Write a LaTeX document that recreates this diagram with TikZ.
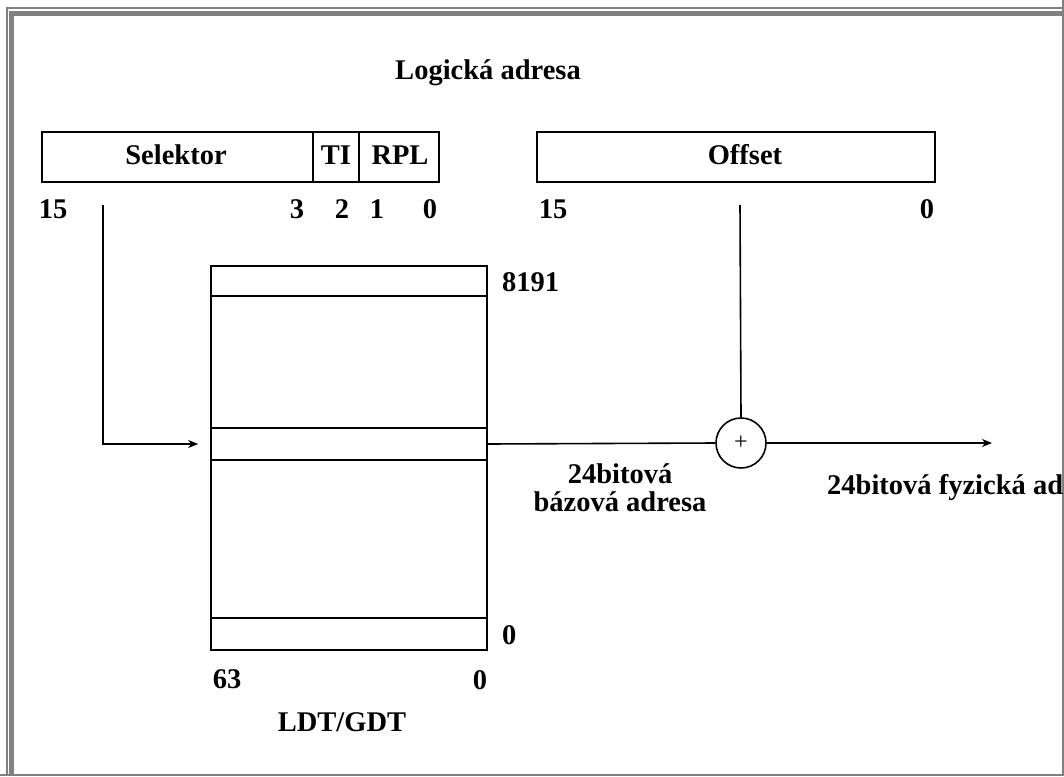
\documentclass[tikz,border=0pt]{standalone}
\usepackage{fontspec}
\setmainfont{Liberation Serif}
\usetikzlibrary{arrows.meta}
\begin{document}
\begin{tikzpicture}[x=1pt,y=-1pt,
  every node/.style={font=\fontsize{28.5}{32}\selectfont\bfseries, inner sep=0pt},
  box/.style={draw, line width=1.6pt, rectangle, inner sep=0pt},
  conn/.style={line width=1.6pt},
  arr/.style={line width=1.6pt, -{Stealth[length=10pt,width=8pt,inset=3pt]}},
  framecol/.style={fill=gray}
]
\useasboundingbox (0,0) rectangle (1064,776);
\fill[white] (0,0) rectangle (1064,776);
% frame
\fill[framecol] (6,7) rectangle (7.7,776);
\fill[framecol] (6,7) rectangle (1064,8.7);
\fill[framecol] (9,11) rectangle (14,776);
\fill[framecol] (9,11) rectangle (1064,16);
\fill[framecol] (1062,0) rectangle (1064,776);
\fill[framecol] (0,774) rectangle (1064,776);

\begin{scope}
\clip (14,16) rectangle (1062,774);
\node (title) at (488,73) {Logická adresa};

% selector register
\node[box, minimum width=271pt, minimum height=50pt] (sel) at (177.5,157) {};
\node (seltxt) at (176,155) {Selektor};
\node[box, minimum width=46pt, minimum height=50pt] (ti) at (336,157) {};
\node (titxt) at (336,155) {TI};
\node[box, minimum width=80pt, minimum height=50pt] (rpl) at (399,157) {};
\node (rpltxt) at (400,155) {RPL};
\node (b15) at (53,209) {15};
\node (b3) at (297,209) {3};
\node (b2) at (342,209) {2};
\node (b1) at (377,209) {1};
\node (b0) at (430,209) {0};

% offset register
\node[box, minimum width=398pt, minimum height=50pt] (off) at (736,157) {};
\node (offtxt) at (745,155) {Offset};
\node (o15) at (553,209) {15};
\node (o0) at (927,209) {0};

% descriptor table
\node[box, minimum width=276pt, minimum height=384pt] (table) at (349,458) {};
\node[box, minimum width=276pt, minimum height=30pt] (toprow) at (349,281) {};
\node[box, minimum width=276pt, minimum height=32pt] (row) at (349,444) {};
\node[box, minimum width=276pt, minimum height=32pt] (botrow) at (349,634) {};
\node[anchor=west] (n8191) at (502,282) {8191};
\node[anchor=west] (n0r) at (502,635) {0};
\node (t63) at (227,679) {63};
\node (t0) at (480,680) {0};
\node (ldt) at (342,722) {LDT/GDT};

% adder
\node[draw, circle, line width=1.6pt, minimum size=50pt,
      font=\fontsize{24}{26}\selectfont] (sum) at (741,443) {+};

\node[align=center] (base) at (620,488) {24bitová\\[-4pt]bázová adresa};
\node[anchor=west] (phys) at (827,488) {24bitová fyzická adresa};

% connectors
\coordinate (selA) at (103,205);
\coordinate (offA) at (740,205);
\coordinate (outE) at (992,443);
\draw[arr, shorten >=12pt] (selA) |- (row.west);
\draw[conn] (offA) -- (sum.north);
\draw[conn] (row.east) -- (sum.west);
\draw[arr] (sum.east) -- (outE);
\end{scope}
\end{tikzpicture}
\end{document}
